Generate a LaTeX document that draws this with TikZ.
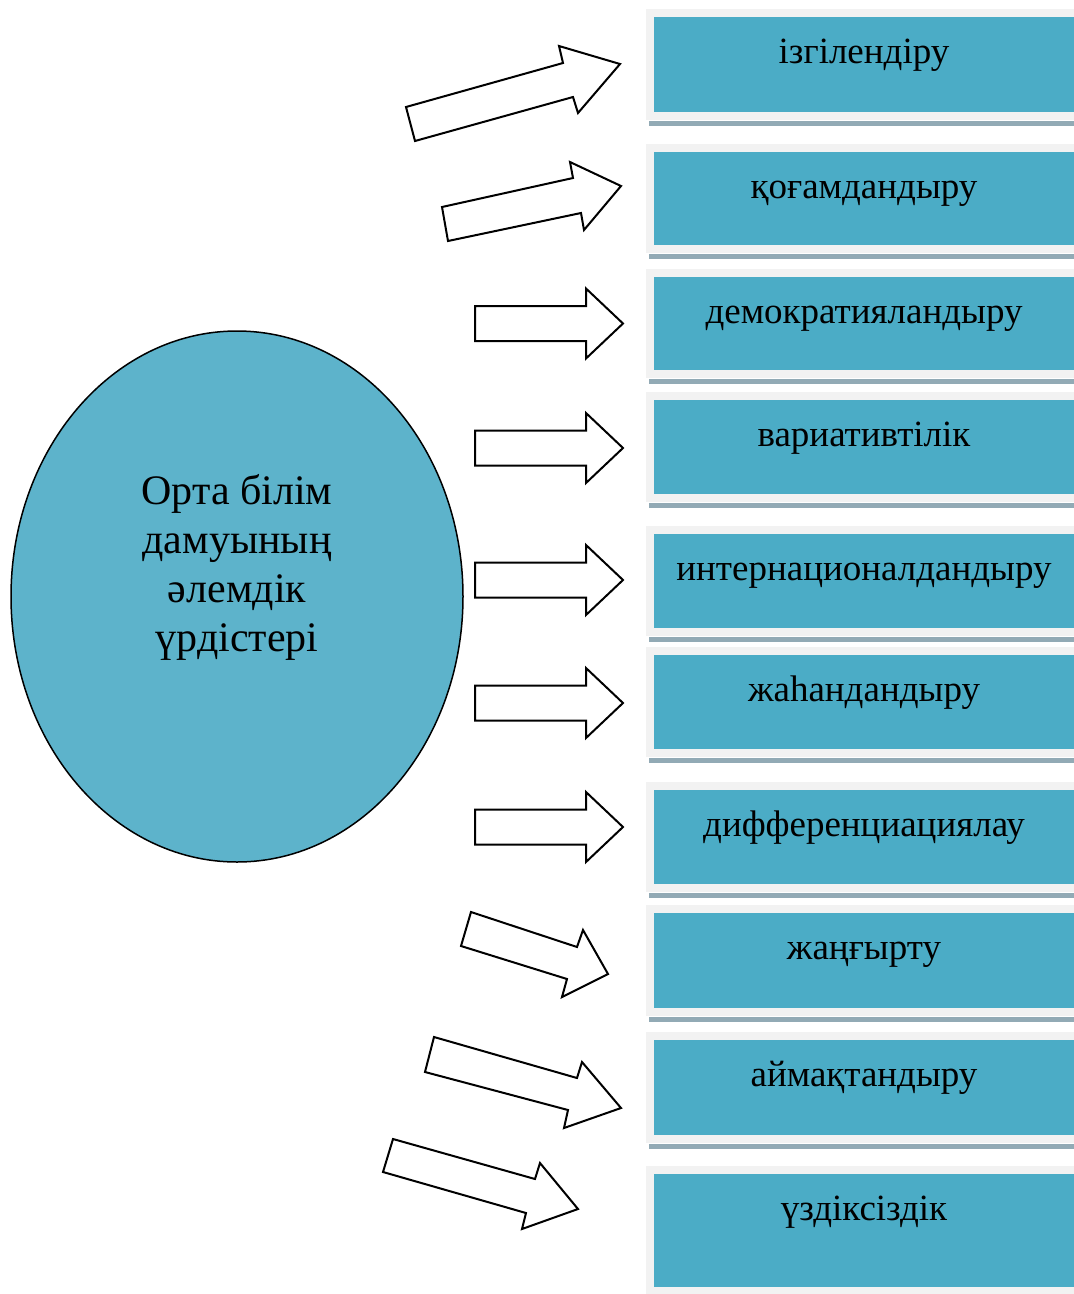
\documentclass[tikz,border=0pt]{standalone}
\usepackage{fontspec}
\setmainfont{Liberation Serif}
\usetikzlibrary{shapes.geometric}
\definecolor{boxteal}{RGB}{75,172,198}
\definecolor{ellfill}{RGB}{93,179,203}
\definecolor{framegray}{RGB}{242,242,242}
\definecolor{shadowc}{RGB}{146,170,181}
\begin{document}
\begin{tikzpicture}[x=1pt,y=-1pt,
  tealbox/.style={fill=boxteal, anchor=north west, minimum width=420pt, inner sep=0},
  boxtext/.style={anchor=base, inner sep=0, font=\fontsize{37}{42}\selectfont},
  blockarrow/.style={draw=black, fill=white, line width=2pt, line join=miter}]
\useasboundingbox (0,0) rectangle (1074,1294);
% boxes
\foreach \nm/\tp/\bt/\tx/\sh in {b1/17/112/ізгілендіру/1,
  b2/152/245/қоғамдандыру/1,
  b3/277/370/демократияландыру/1,
  b4/400/494/вариативтілік/1,
  b5/534/628/интернационалдандыру/1,
  b6/655/749/жаһандандыру/1,
  b7/790/884/дифференциациялау/1,
  b8/913/1008/жаңғырту/1,
  b9/1040/1135/аймақтандыру/1,
  b10/1174/1287/үздіксіздік/0}{
  \ifnum\sh=1
    \fill[shadowc] (649,{\bt+9}) rectangle (1074,{\bt+14});
  \fi
  \fill[framegray] (646,{\tp-8}) rectangle (1074,{\bt+8});
  \node[tealbox, minimum height={\bt-\tp}] (\nm) at (654,\tp) {};
  \node[boxtext] (\nm t) at (864,{\tp+46}) {\tx};
}
% ellipse
\node[draw=black, line width=1.5pt, ellipse, fill=ellfill, minimum width=452pt, minimum height=531pt, inner sep=0] (core) at (237,596.5) {};
\node[align=center, inner sep=0, font=\fontsize{42}{49}\selectfont] (coretext) at (237,567.5) {Орта білім\\дамуының\\әлемдік\\үрдістері};
% slanted arrows
\draw[blockarrow] (406,107) -- (563,63) -- (559,46) -- (620,64) -- (578,113) -- (573,97) -- (415,141) -- cycle;
\draw[blockarrow] (442,207) -- (573,178) -- (570,162) -- (621,186) -- (584,230) -- (581,213) -- (448,241) -- cycle;
% horizontal arrows
\foreach \c in {323.5,448,580,703,827}{
  \draw[blockarrow] (475,{\c-17.5}) -- (586,{\c-17.5}) -- (586,{\c-35}) -- (623,\c) -- (586,{\c+35}) -- (586,{\c+17.5}) -- (475,{\c+17.5}) -- cycle;
}
% descending arrows
\draw[blockarrow] (471,912) -- (577,947) -- (583,930) -- (608,974) -- (562,997) -- (567,979) -- (461,946) -- cycle;
\draw[blockarrow] (434,1037) -- (577,1078) -- (582,1062) -- (621,1108) -- (564,1128) -- (568,1110) -- (425,1072) -- cycle;
\draw[blockarrow] (393,1139) -- (535,1179) -- (540,1163) -- (578,1209) -- (522,1229) -- (526,1213) -- (383,1172) -- cycle;
\end{tikzpicture}
\end{document}
